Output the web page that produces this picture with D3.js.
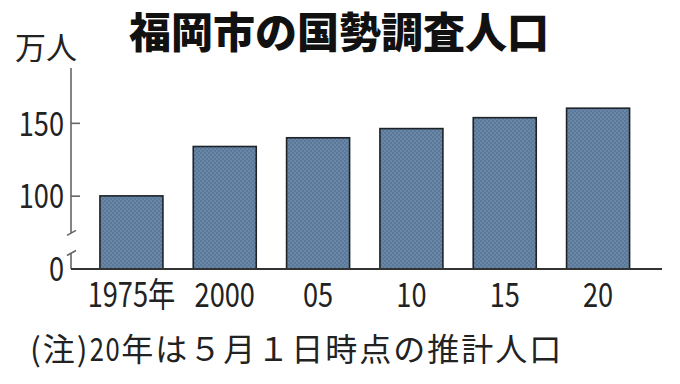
<!DOCTYPE html>
<html><head><meta charset="utf-8">
<script src="https://cdn.jsdelivr.net/npm/d3@7/dist/d3.min.js"></script>
<style>
html,body{margin:0;padding:0;background:#fff;}
svg{display:block;}
</style></head>
<body>
<script>
const categories = ["1975年","2000","05","10","15","20"];
const values = [100.2, 134.1, 140.1, 146.4, 153.9, 160.4];
const tickValues = [100, 150];
const tickLabels = ["100", "150"];
const zeroLabel = "0";
const title = "福岡市の国勢調査人口";
const unit = "万人";
const noteParts = [["(注)", 1], ["20", 0.8], ["年は５月１日時点の推計人口", 1]];

const W = 680, H = 384;
const svg = d3.select("body").append("svg").attr("width", W).attr("height", H);

const cjkFont = "'Noto Sans CJK JP',sans-serif";
const SX = 0.8; // horizontal condensing of numeric labels

const axisX = 71, baseY = 269;
const x = d3.scaleBand().domain(categories).range([71, 658.5]).paddingInner(0.325).paddingOuter(0.31);
// broken axis: baseline stands for the "0" position (visual value 50)
const y = d3.scaleLinear().domain([50, 188]).range([baseY, 68]);

const defs = svg.append("defs");
const pat = defs.append("pattern").attr("id","dots").attr("width",4).attr("height",4).attr("patternUnits","userSpaceOnUse");
pat.append("rect").attr("width",4).attr("height",4).attr("fill","#6a87a6");
pat.append("rect").attr("width",2).attr("height",2).attr("fill","#5a789a");
pat.append("rect").attr("x",2).attr("y",2).attr("width",2).attr("height",2).attr("fill","#5a789a");

// title
svg.append("text").attr("x", 339).attr("y", 48).attr("text-anchor","middle")
  .attr("font-family", cjkFont).attr("font-weight", 900).attr("font-size", 42).attr("fill","#111").text(title);
// unit
svg.append("text").attr("x", 15).attr("y", 59)
  .attr("font-family", cjkFont).attr("font-size", 31).attr("fill","#222").text(unit);

// bars
svg.append("g").selectAll("rect").data(values).join("rect")
  .attr("x", (d,i) => x(categories[i]))
  .attr("width", x.bandwidth())
  .attr("y", d => y(d))
  .attr("height", d => baseY - y(d))
  .attr("fill", "url(#dots)")
  .attr("stroke", "#1e2328").attr("stroke-width", 1.6);

// y axis with break
const axG = svg.append("g").attr("stroke", "#666").attr("stroke-width", 1.6).attr("fill","none");
const breakHi = y(74.8), breakLo = y(61);
axG.append("line").attr("x1", axisX).attr("x2", axisX).attr("y1", 68).attr("y2", breakHi);
axG.append("line").attr("x1", axisX).attr("x2", axisX).attr("y1", breakLo).attr("y2", baseY);
[breakHi, breakLo].forEach(by => {
  axG.append("line").attr("x1", axisX - 4).attr("y1", by + 2.5).attr("x2", axisX + 5).attr("y2", by - 2.5);
});
tickValues.forEach(v => {
  axG.append("line").attr("x1", axisX).attr("x2", axisX + 9).attr("y1", y(v)).attr("y2", y(v));
});

// baseline
svg.append("line").attr("x1", axisX).attr("x2", 662).attr("y1", baseY).attr("y2", baseY)
  .attr("stroke", "#333").attr("stroke-width", 2);

// tick labels
const tl = svg.append("g").attr("font-family", cjkFont).attr("font-size", 34).attr("fill","#222").attr("text-anchor","end");
tickValues.forEach((v,i) => {
  tl.append("text").attr("transform", `translate(64,${y(v)}) scale(${SX},1)`).attr("dy","0.36em").text(tickLabels[i]);
});
tl.append("text").attr("transform", `translate(64,${baseY}) scale(${SX},1)`).attr("dy","0.36em").text(zeroLabel);

// x labels
svg.append("g").selectAll("text").data(categories).join("text")
  .attr("transform", d => `translate(${x(d) + x.bandwidth()/2},307) scale(${SX},1)`)
  .attr("text-anchor","middle").attr("font-family", cjkFont).attr("font-size", 34).attr("fill","#222")
  .text(d => d);

// note (drawn piecewise so the half-width digits are condensed like the original)
let nx = 30;
const noteG = svg.append("g").attr("font-family", cjkFont).attr("font-size", 32).attr("fill","#222");
noteParts.forEach(([t, s]) => {
  const el = noteG.append("text").attr("transform", `translate(${nx},361) scale(${s},1)`).attr("letter-spacing", 2).text(t);
  nx += el.node().getComputedTextLength() * s;
});
</script>
</body></html>
